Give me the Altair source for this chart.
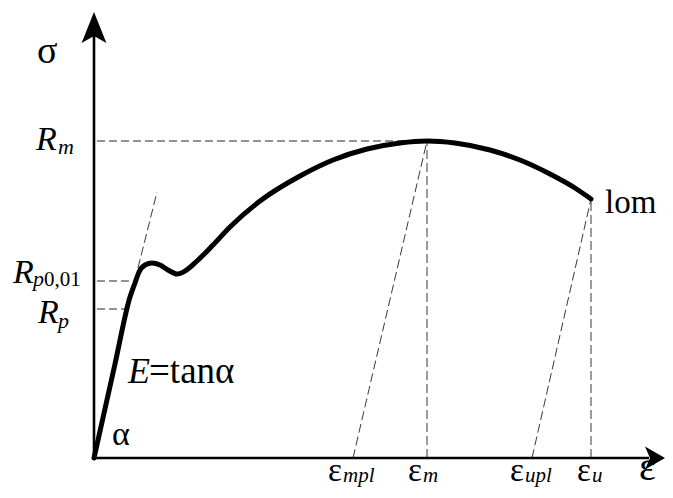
import altair as alt
import pandas as pd

# ---- values (arbitrary units: strain ε, stress σ) ----
strain = [0, 21, 36, 41, 45, 51, 58, 66, 74, 83, 91, 103, 119, 136, 166, 206,
          239, 273, 306, 333, 361, 396, 426, 456, 481, 497]
stress = [0, 94, 161, 175, 186, 193, 195, 193, 188, 184, 187, 197, 213, 231,
          257, 282, 298, 309, 315, 317, 315, 308, 298, 284, 270, 259]

eps_mpl = 259
eps_m = 333
eps_upl = 438
eps_u = 497
R_m = 317
R_p001 = 177
R_p = 149
sigma_u = 259          # stress at fracture (lom)
tangent_x = [44, 63]
tangent_y = [190, 266]

W, H = 657, 482
XDOM = [-86, 571]
YDOM = [458 - (8 + H), 450]
FONT = "Liberation Serif"

xs = alt.Scale(domain=XDOM, nice=False, zero=False)
ys = alt.Scale(domain=YDOM, nice=False, zero=False)


def X(f):
    return alt.X(f, type="quantitative", scale=xs, axis=None)


def Y(f):
    return alt.Y(f, type="quantitative", scale=ys, axis=None)


curve_df = pd.DataFrame({"x": strain, "y": stress})
curve = alt.Chart(curve_df).mark_line(
    color="black", strokeWidth=5, interpolate="monotone", strokeCap="round",
    strokeJoin="round"
).encode(x=X("x"), y=Y("y"))

# axes
axes_df = pd.DataFrame({"x": [0, 0], "y": [0, 0], "x2": [0, 555], "y2": [440, 0]})
axes = alt.Chart(axes_df).mark_rule(color="black", strokeWidth=2.6).encode(
    x=X("x"), y=Y("y"), x2="x2", y2="y2")

up_arrow = alt.Chart(pd.DataFrame({"x": [0], "y": [430.5]})).mark_point(
    shape="M0,-1L0.8,1L0,0.55L-0.8,1Z", filled=True, color="black",
    opacity=1, size=961, strokeWidth=0
).encode(x=X("x"), y=Y("y"))

right_arrow = alt.Chart(pd.DataFrame({"x": [561], "y": [0]})).mark_point(
    shape="M0,-1L1.15,1L0,0.5L-1.15,1Z", filled=True, color="black",
    opacity=1, size=400, angle=90, strokeWidth=0
).encode(x=X("x"), y=Y("y"))

# gray horizontal dashed guides
gray_df = pd.DataFrame({
    "x": [3, 3, 3], "x2": [eps_m, 39, 32],
    "y": [R_m, R_p001, R_p], "y2": [R_m, R_p001, R_p]})
gray = alt.Chart(gray_df).mark_rule(
    color="#6f6f6f", strokeWidth=1.4, strokeDash=[8, 4]
).encode(x=X("x"), y=Y("y"), x2="x2", y2="y2")

# black thin dashed guides
blk_df = pd.DataFrame({
    "x": [tangent_x[0], eps_mpl, eps_m, eps_upl, eps_u],
    "y": [tangent_y[0], 0, 0, 0, 0],
    "x2": [tangent_x[1], eps_m, eps_m, eps_u, eps_u],
    "y2": [tangent_y[1], R_m, R_m, sigma_u, sigma_u]})
blk = alt.Chart(blk_df).mark_rule(
    color="#222222", strokeWidth=0.9, strokeDash=[9, 4]
).encode(x=X("x"), y=Y("y"), x2="x2", y2="y2")

# labels: (anchor x, anchor y, dx, dy, text, size, italic)
labels = [
    (0, 0, -57, 395, "σ", 38, False),
    (0, R_m, -58, -9, "R", 34, True),
    (0, R_m, -36, -13, "m", 22, True),
    (0, R_p001, -81, -2, "R", 34, True),
    (0, R_p001, -61, -5, "p", 22, True),
    (0, R_p001, -50, -5, "0,01", 21, False),
    (0, R_p, -56, -14, "R", 34, True),
    (0, R_p, -36, -19, "p", 22, True),
    (0, 0, 34, 75, "E", 36, True),
    (0, 0, 55, 75, "=tanα", 37, False),
    (0, 0, 18, 13, "α", 34, False),
    (eps_u, sigma_u, 14, -14, "lom", 33, False),
    (eps_mpl, 0, -25, -23, "ε", 33, False),
    (eps_mpl, 0, -10, -24, "mpl", 21, True),
    (eps_m, 0, -19, -23, "ε", 33, False),
    (eps_m, 0, -4, -24, "m", 21, True),
    (eps_upl, 0, -22, -23, "ε", 33, False),
    (eps_upl, 0, -7, -24, "upl", 21, True),
    (eps_u, 0, -14, -23, "ε", 33, False),
    (eps_u, 0, 1, -24, "u", 21, True),
    (0, 0, 545, -22, "ε", 40, False),
]
lab_df = pd.DataFrame([
    {"x": ax + dx, "y": ay + dy, "t": t, "s": s, "it": it}
    for ax, ay, dx, dy, t, s, it in labels])


def text_layer(italic):
    return alt.Chart(lab_df[lab_df["it"] == italic]).mark_text(
        align="left", baseline="alphabetic", font=FONT,
        fontStyle="italic" if italic else "normal", color="black"
    ).encode(x=X("x"), y=Y("y"), text="t:N",
             size=alt.Size("s:Q", scale=None, legend=None))


chart = alt.layer(
    gray, blk, axes, curve, up_arrow, right_arrow,
    text_layer(False), text_layer(True)
).properties(
    width=W, height=H, padding=0, autosize="none", background="white"
).configure_view(stroke=None)

chart.save("out.html", embed_options={"renderer": "svg", "actions": False})
